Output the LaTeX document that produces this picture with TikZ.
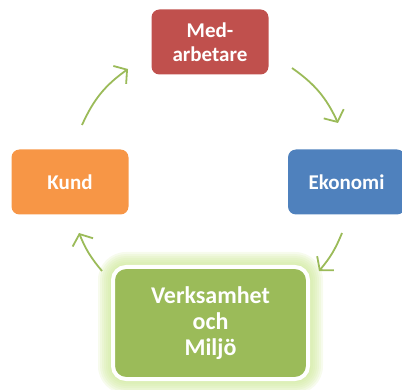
\documentclass[tikz,border=0pt]{standalone}
\usepackage{fontspec}
\setmainfont{Carlito}
\usetikzlibrary{arrows.meta}

\definecolor{rot}{RGB}{192,80,77}
\definecolor{blau}{RGB}{79,129,189}
\definecolor{orange}{RGB}{247,150,70}
\definecolor{gruen}{RGB}{155,187,89}
\definecolor{schein}{RGB}{205,232,150}

\begin{document}
\begin{tikzpicture}[x=1pt,y=-1pt,
	kasten/.style={rectangle,rounded corners=8pt,minimum width=117pt,minimum height=65pt,
		inner sep=0pt,text=white,align=center,font=\fontsize{21}{24}\selectfont\bfseries},
	grosskasten/.style={kasten,minimum width=195pt,minimum height=112pt,rounded corners=13pt,
		draw=white,line width=4pt,font=\fontsize{24}{26}\selectfont\bfseries},
	pil/.style={draw=gruen,line width=1.8pt,-{Straight Barb[length=9pt,width=22pt,line width=1.8pt]}}]
	\useasboundingbox (0,0) rectangle (402,390);
	% Schein um den unteren Kasten
	\coordinate (vnw) at (113,267);
	\coordinate (vse) at (308,379);
	\foreach \r in {15,13,...,1}
		\fill[schein,opacity=.17,rounded corners=13pt+\r pt]
			([shift={(-\r,-\r)}]vnw) rectangle ([shift={(\r,\r)}]vse);
	% die vier Kaesten
	\node[kasten,fill=rot] (med) at (210,42){Med-\\arbetare};
	\node[kasten,fill=orange] (kund) at (70,182){Kund};
	\node[kasten,fill=blau] (eko) at (346.5,182){Ekonomi};
	\node[grosskasten,fill=gruen] (verk) at (210.5,323){Verksamhet\\och\\Miljö};
	% Pfeile im Kreis
	\coordinate (k1) at (82,125);
	\coordinate (m1) at (128,69);
	\coordinate (m2) at (292,68);
	\coordinate (e1) at (338,123);
	\coordinate (e2) at (342,233);
	\coordinate (v1) at (319,271);
	\coordinate (v2) at (102,271);
	\coordinate (k2) at (79,233);
	\draw[pil] (k1) to[bend left=15] (m1);
	\draw[pil] (m2) to[bend left=15] (e1);
	\draw[pil] (e2) to[bend left=9] (v1);
	\draw[pil] (v2) to[bend left=9] (k2);
\end{tikzpicture}
\end{document}
